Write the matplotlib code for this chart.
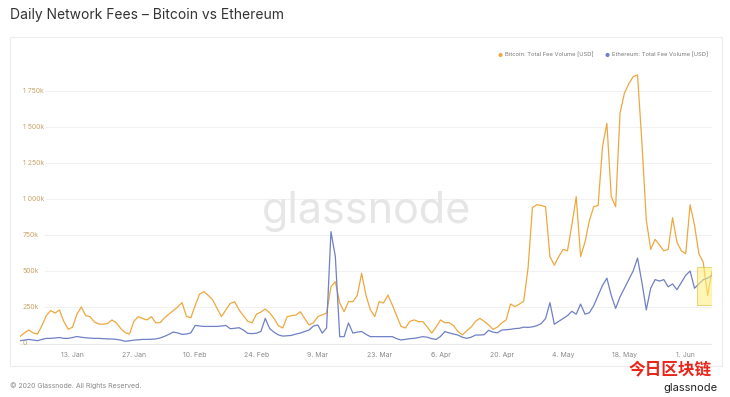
import numpy as np
import pandas as pd
import matplotlib
matplotlib.use("Agg")
import matplotlib.pyplot as plt
import matplotlib.dates as mdates
import matplotlib.patches as mpatches

plt.rcParams["font.family"] = ["Inter", "Noto Sans CJK SC", "DejaVu Sans"]

# daily fee volume in thousand USD, 1 Jan 2020 .. 7 Jun 2020
btc_fees = [45, 70, 90, 70, 62, 120, 190, 225, 208, 229,
            150, 95, 110, 200, 250, 190, 183, 145, 132, 130,
            135, 160, 140, 100, 72, 62, 150, 183, 170, 160,
            183, 140, 141, 175, 200, 225, 250, 280, 185, 175,
            260, 340, 356, 330, 299, 240, 183, 230, 275, 287,
            230, 190, 150, 141, 200, 215, 236, 210, 170, 120,
            104, 183, 190, 194, 217, 170, 125, 140, 183, 195,
            208, 391, 426, 278, 217, 287, 287, 330, 484, 330,
            230, 183, 287, 278, 333, 264, 190, 115, 104, 150,
            160, 148, 148, 110, 69, 110, 160, 141, 141, 120,
            80, 56, 85, 110, 150, 171, 150, 125, 95, 110,
            139, 160, 271, 252, 270, 290, 520, 940, 960, 955,
            946, 600, 540, 600, 650, 640, 820, 1016, 600, 700,
            850, 947, 955, 1363, 1525, 1016, 946, 1595, 1734, 1800,
            1850, 1861, 1389, 854, 650, 720, 680, 640, 650, 870,
            700, 640, 620, 960, 820, 620, 560, 330, 500]
eth_fees = [16, 20, 25, 20, 16, 25, 32, 32, 35, 38,
            32, 32, 38, 45, 40, 36, 34, 32, 32, 30,
            28, 28, 25, 20, 12, 15, 20, 22, 25, 25,
            26, 28, 35, 46, 60, 76, 70, 60, 62, 70,
            122, 118, 115, 115, 115, 115, 118, 122, 99, 102,
            106, 90, 67, 65, 68, 80, 171, 100, 75, 56,
            48, 50, 53, 62, 69, 80, 90, 118, 125, 69,
            104, 773, 600, 44, 44, 139, 69, 75, 80, 60,
            44, 44, 44, 44, 44, 44, 30, 21, 25, 30,
            32, 38, 44, 40, 30, 25, 45, 79, 70, 62,
            55, 40, 32, 40, 55, 55, 58, 88, 75, 71,
            90, 92, 95, 100, 102, 110, 108, 112, 120, 135,
            170, 280, 130, 150, 170, 190, 220, 200, 270, 200,
            210, 260, 330, 400, 450, 330, 240, 320, 380, 440,
            500, 590, 420, 230, 380, 440, 430, 440, 390, 410,
            370, 420, 470, 500, 380, 410, 440, 450, 470]
days = pd.date_range("2020-01-01", periods=len(btc_fees), freq="D")
y_ticks = [0, 250, 500, 750, 1000, 1250, 1500, 1750]
y_labels = ["0", "250k", "500k", "750k", "1 000k", "1 250k", "1 500k", "1 750k"]
tick_days = pd.date_range("2020-01-13", "2020-06-07", freq="14D")

btc_color = "#eea83f"
eth_color = "#6f80c4"

fig = plt.figure(figsize=(7.3, 3.97), dpi=100)
W, H = 730, 397

# card behind the chart
fig.patches.append(mpatches.Rectangle((10 / W, 1 - 366 / H), 712 / W, 329 / H,
                                      transform=fig.transFigure, facecolor="white",
                                      edgecolor="#ececec", linewidth=0.8, zorder=-10))

ax = fig.add_axes([20 / W, 1 - 345 / H, 692 / W, 285 / H])
ax.set_facecolor("none")
for s in ax.spines.values():
    s.set_visible(False)

# watermark
fig.text(366 / W, 1 - 212 / H, "glassnode", fontsize=31,
         color="#e6e6e6", ha="center", va="center", zorder=0)

for v in y_ticks[1:]:
    ax.axhline(v, xmin=0.036, xmax=1, color="#f1f1f1", linewidth=0.8, zorder=1)
ax.axhline(-8, color="#e8e8e8", linewidth=0.8, zorder=1)
for v, lab in zip(y_ticks, y_labels):
    ax.annotate(lab, xy=(0, v), xycoords=("axes fraction", "data"),
                xytext=(2, 0), textcoords="offset points", fontsize=5,
                color="#c8a46c", ha="left", va="center")

ax.plot(days, btc_fees, color=btc_color, linewidth=0.9, zorder=3)
ax.plot(days, eth_fees, color=eth_color, linewidth=0.9, zorder=4)

# highlighted box at the end
ax.add_patch(mpatches.Rectangle((mdates.date2num(days[154]) + 0.6, 264), 3.4, 261,
                                facecolor="#fff07a", alpha=0.55, edgecolor="#d9b92a",
                                linewidth=0.8, zorder=5))

ax.set_ylim(-14, 1965)
ax.set_xlim(days[0], days[-1])
ax.set_yticks([])
ax.set_xticks(tick_days)
ax.set_xticklabels([f"{d.day}. {d.strftime('%b')}" for d in tick_days])
ax.tick_params(axis="x", length=0, labelsize=5, labelcolor="#8a8a8a", pad=5)

# legend
fig.text(500 / W, 1 - 55 / H, "●", fontsize=4, color=btc_color, ha="center", va="center")
fig.text(505 / W, 1 - 55 / H, "Bitcoin: Total Fee Volume [USD]", fontsize=4.2,
         color="#777777", ha="left", va="center")
fig.text(607 / W, 1 - 55 / H, "●", fontsize=4, color=eth_color, ha="center", va="center")
fig.text(612 / W, 1 - 55 / H, "Ethereum: Total Fee Volume [USD]", fontsize=4.2,
         color="#777777", ha="left", va="center")

fig.text(10 / W, 1 - 15 / H, "Daily Network Fees – Bitcoin vs Ethereum", fontsize=10,
         color="#333333", ha="left", va="center")
fig.text(10 / W, 1 - 386 / H, "© 2020 Glassnode. All Rights Reserved.", fontsize=5,
         color="#888888", ha="left", va="center")
fig.text(670 / W, 1 - 369 / H, "今日区块链", fontsize=12, fontweight="bold",
         color="#e8261c", ha="center", va="center", family="Noto Sans CJK SC")
fig.text(690 / W, 1 - 388 / H, "glassnode", fontsize=8, color="#222222",
         ha="center", va="center")

fig.savefig("out.png", dpi=100)
